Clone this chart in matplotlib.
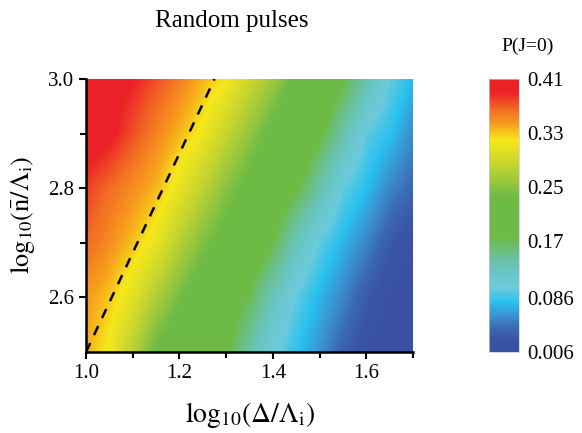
import numpy as np
import matplotlib
matplotlib.use('Agg')
import matplotlib.pyplot as plt
from matplotlib.colors import LinearSegmentedColormap

plt.rcParams['font.family'] = 'Liberation Serif'
plt.rcParams['mathtext.fontset'] = 'stix'

# grid of log10(Delta/Lambda_i) and log10(nbar/Lambda_i)
x = np.array([1.00, 1.05, 1.10, 1.15, 1.20, 1.25, 1.30, 1.35,
              1.40, 1.45, 1.50, 1.55, 1.60, 1.65, 1.70])
y = np.array([2.5, 2.6, 2.7, 2.8, 2.9, 3.0])

# P(J=0), one row per y value
p_25 = [0.338, 0.315, 0.275, 0.232, 0.210, 0.195, 0.177, 0.140, 0.103, 0.082, 0.060, 0.035, 0.015, 0.010, 0.008]
p_26 = [0.345, 0.330, 0.305, 0.270, 0.240, 0.215, 0.195, 0.170, 0.130, 0.097, 0.075, 0.055, 0.030, 0.015, 0.010]
p_27 = [0.366, 0.350, 0.332, 0.310, 0.275, 0.245, 0.222, 0.200, 0.175, 0.130, 0.097, 0.075, 0.055, 0.030, 0.015]
p_28 = [0.380, 0.365, 0.350, 0.335, 0.310, 0.280, 0.250, 0.225, 0.200, 0.178, 0.140, 0.098, 0.079, 0.055, 0.040]
p_29 = [0.405, 0.395, 0.375, 0.355, 0.335, 0.315, 0.285, 0.255, 0.228, 0.205, 0.180, 0.140, 0.097, 0.081, 0.058]
p_30 = [0.410, 0.400, 0.390, 0.375, 0.357, 0.336, 0.320, 0.290, 0.260, 0.230, 0.205, 0.178, 0.140, 0.100, 0.077]
P = np.array([p_25, p_26, p_27, p_28, p_29, p_30])

# dashed guide line
line_x = [1.0, 1.275]
line_y = [2.5, 3.0]

cbar_ticks = [0.006, 0.086, 0.17, 0.25, 0.33, 0.41]
cbar_labels = ['0.006', '0.086', '0.17', '0.25', '0.33', '0.41']
vmin, vmax = 0.006, 0.41

# rainbow map anchored at values
anchors = [
    (0.006, '#3a50a0'), (0.025, '#3a55a5'), (0.040, '#3c68b1'),
    (0.058, '#3b8fcf'), (0.079, '#29c1ef'), (0.100, '#6ccbdc'),
    (0.125, '#69c5c3'), (0.150, '#6bc091'), (0.175, '#6dbb46'),
    (0.235, '#6dbb45'), (0.260, '#9cc83c'), (0.285, '#c6d62e'),
    (0.320, '#f6e81b'), (0.342, '#f7a11c'), (0.366, '#f26a24'),
    (0.390, '#ec2227'), (0.410, '#ec2027'),
]
cmap = LinearSegmentedColormap.from_list(
    'pj', [((v - vmin) / (vmax - vmin), c) for v, c in anchors])

fig = plt.figure(figsize=(5.82, 4.33), dpi=100)
ax = fig.add_axes([0.1478, 0.187, 0.5618, 0.6306])
cax = fig.add_axes([0.840, 0.187, 0.0515, 0.6306])

dx = x[1] - x[0]
dy = y[1] - y[0]
im = ax.imshow(P, origin='lower', aspect='auto', cmap=cmap, vmin=vmin, vmax=vmax,
               interpolation='bilinear', interpolation_stage='data',
               extent=(x[0] - dx / 2, x[-1] + dx / 2, y[0] - dy / 2, y[-1] + dy / 2))
ax.plot(line_x, line_y, color='black', linestyle=(0, (4, 3.5)), lw=1.8)

ax.set_xlim(1.0, 1.7)
ax.set_ylim(2.5, 3.0)
ax.set_xticks([1.0, 1.2, 1.4, 1.6])
ax.set_xticks([1.1, 1.3, 1.5, 1.7], minor=True)
ax.set_yticks([2.6, 2.8, 3.0])
ax.set_yticks([2.7, 2.9], minor=True)
ax.set_xticklabels(['1.0', '1.2', '1.4', '1.6'])
ax.set_yticklabels(['2.6', '2.8', '3.0'])
ax.tick_params(which='both', direction='out', width=1.5, labelsize=15)
ax.tick_params(which='major', length=5)
ax.tick_params(which='minor', length=4)
for s in ['top', 'right']:
    ax.spines[s].set_visible(False)
for s in ['left', 'bottom']:
    ax.spines[s].set_linewidth(1.8)

ax.set_xlabel(r'$\mathrm{log}_{10}(\Delta/\Lambda_{\mathrm{i}})$', fontsize=20, labelpad=12)
ax.set_ylabel(r'$\mathrm{log}_{10}(\bar{\mathrm{n}}/\Lambda_{\mathrm{i}})$', fontsize=19, labelpad=8)
fig.text(232 / 582, 1 - 21 / 433, 'Random pulses', fontsize=18, ha='center', va='center')

cbar = fig.colorbar(im, cax=cax, ticks=cbar_ticks)
cbar.ax.set_yticklabels(cbar_labels)
cbar.ax.tick_params(length=0, labelsize=15, pad=6)
cbar.outline.set_linewidth(0.5)
cbar.outline.set_edgecolor('#c8c8d8')
fig.text(528 / 582, 1 - 46 / 433, 'P(J=0)', fontsize=14, ha='center', va='center')

fig.savefig('out.png', dpi=100)
